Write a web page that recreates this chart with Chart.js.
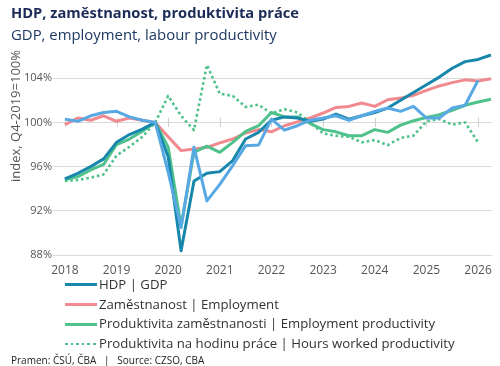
<!DOCTYPE html>
<html>
<head>
<meta charset="utf-8">
<script src="https://cdn.jsdelivr.net/npm/chart.js@4"></script>
<style>
  html, body { margin: 0; padding: 0; background: #fff; }
  body { width: 500px; height: 366px; position: relative; overflow: hidden; font-family: "Open Sans", sans-serif; }
  #wrap { position: absolute; left: 0; top: 0; width: 500px; height: 366px; }
  #t1 { position: absolute; left: 11px; top: 2px; font-weight: 700; font-size: 14.7px; color: #1b2a57; white-space: nowrap; }
  #t2 { position: absolute; left: 11px; top: 24px; font-size: 14.9px; color: #1d3963; white-space: nowrap; }
  #legend { position: absolute; left: 65px; top: 275px; }
  .row { height: 19.7px; line-height: 19.7px; font-size: 13.2px; color: #333; white-space: nowrap; display: flex; align-items: center; }
  .sw { display: inline-block; width: 32px; height: 3px; margin-right: 2px; }
  #src { position: absolute; left: 11px; top: 353px; font-size: 10px; color: #222; white-space: nowrap; }
</style>
</head>
<body>
<div id="wrap"><canvas id="c" width="500" height="366"></canvas></div>
<div id="t1">HDP, zaměstnanost, produktivita práce</div>
<div id="t2">GDP, employment, labour productivity</div>
<div id="legend"></div>
<div id="src">Pramen: ČSÚ, ČBA &nbsp; | &nbsp; Source: CZSO, CBA</div>
<script>
const quarters = [
  "2018Q1","2018Q2","2018Q3","2018Q4",
  "2019Q1","2019Q2","2019Q3","2019Q4",
  "2020Q1","2020Q2","2020Q3","2020Q4",
  "2021Q1","2021Q2","2021Q3","2021Q4",
  "2022Q1","2022Q2","2022Q3","2022Q4",
  "2023Q1","2023Q2","2023Q3","2023Q4",
  "2024Q1","2024Q2","2024Q3","2024Q4",
  "2025Q1","2025Q2","2025Q3","2025Q4",
  "2026Q1","2026Q2"
];
const yearTicks = [2018, 2019, 2020, 2021, 2022, 2023, 2024, 2025, 2026];
const yTicks = [88, 92, 96, 100, 104];

const gdp = [94.9, 95.4, 96.0, 96.7, 98.2, 98.9, 99.4, 100.0, 96.9, 88.4, 94.7, 95.4, 95.55, 96.55, 98.5, 99.1,
             100.2, 100.5, 100.4, 100.1, 100.3, 100.75, 100.3, 100.6, 100.9, 101.3, 102.0, 102.7, 103.4, 104.1, 104.9, 105.5,
             105.7, 106.1];
const employment = [99.8, 100.4, 100.2, 100.6, 100.1, 100.4, 100.2, 100.0, 98.7, 97.45, 97.6, 97.75, 98.15, 98.5, 99.05, 99.35,
             99.15, 99.7, 100.05, 100.4, 100.85, 101.35, 101.45, 101.75, 101.45, 102.05, 102.2, 102.45, 102.9, 103.3, 103.6, 103.85,
             103.75, 103.95];
const empProductivity = [94.8, 95.1, 95.7, 96.2, 98.0, 98.5, 99.2, 100.0, 97.75, 90.6, 97.3, 97.85, 97.3, 98.2, 99.2, 99.7,
             100.9, 100.5, 100.5, 99.9, 99.35, 99.15, 98.8, 98.8, 99.35, 99.1, 99.75, 100.15, 100.45, 100.7, 101.1, 101.55,
             101.85, 102.1];
const hoursProductivity = [94.7, 94.8, 95.0, 95.3, 97.0, 97.8, 98.7, 100.0, 102.4, 100.6, 99.3, 105.2, 102.6, 102.4, 101.4, 101.6,
             100.8, 101.2, 100.9, 100.0, 99.0, 98.8, 98.7, 98.2, 98.4, 97.95, 98.6, 98.8, 100.1, 100.3, 99.8, 100.0,
             98.2, null];
const otherSeries = [100.3, 100.1, 100.6, 100.9, 101.0, 100.5, 100.2, 100.0, 95.5, 90.5, 97.75, 92.9, 94.4, 96.1, 97.9, 97.95,
             100.3, 99.3, 99.7, 100.2, 100.4, 100.6, 100.2, 100.6, 101.0, 101.3, 101.0, 101.45, 100.4, 100.4, 101.3, 101.55,
             103.8, null];

const xOf = q => parseInt(q.slice(0, 4), 10) + (parseInt(q.slice(5), 10) - 1) / 4;
const pts = arr => quarters.map((q, i) => ({ x: xOf(q), y: arr[i] }));

const COL = { gdp: '#1787ab', emp: '#f08a8f', prod: '#4fc18b', blue: '#58a8e4' };

const datasets = [
  { label: 'HDP | GDP', data: pts(gdp), borderColor: COL.gdp, borderWidth: 3, order: 1, inLegend: true },
  { label: 'Zaměstnanost | Employment', data: pts(employment), borderColor: COL.emp, borderWidth: 3, order: 4, inLegend: true },
  { label: 'Produktivita zaměstnanosti | Employment productivity', data: pts(empProductivity), borderColor: COL.prod, borderWidth: 3, order: 3, inLegend: true },
  { label: 'Produktivita na hodinu práce | Hours worked productivity', data: pts(hoursProductivity), borderColor: COL.prod, borderWidth: 2.6, borderDash: [2.6, 2.8], order: 2, inLegend: true, dotted: true },
  { label: '', data: pts(otherSeries), borderColor: COL.blue, borderWidth: 3, order: 0, inLegend: false }
];
datasets.forEach(d => { d.pointRadius = 0; d.fill = false; d.tension = 0; d.spanGaps = false; d.borderJoinStyle = 'round'; });

const midTicks = {
  id: 'midTicks',
  beforeDatasetsDraw(chart) {
    const { ctx, scales } = chart;
    const y = scales.y.getPixelForValue(100);
    ctx.save();
    ctx.strokeStyle = '#cfcfcf';
    ctx.lineWidth = 1;
    yearTicks.forEach(v => {
      const x = Math.round(scales.x.getPixelForValue(v)) + 0.5;
      ctx.beginPath();
      ctx.moveTo(x, y - 4.5);
      ctx.lineTo(x, y + 4.5);
      ctx.stroke();
    });
    ctx.restore();
  }
};

const chart = new Chart(document.getElementById('c'), {
  type: 'line',
  data: { datasets },
  options: {
    responsive: false,
    animation: false,
    layout: { padding: { top: 50, left: 0, right: 7, bottom: 80.5 } },
    plugins: { legend: { display: false }, tooltip: { enabled: false }, title: { display: false } },
    scales: {
      x: {
        type: 'linear',
        min: 2017.77,
        max: 2026.28,
        afterBuildTicks: s => { s.ticks = yearTicks.map(v => ({ value: v })); },
        ticks: { callback: v => String(v), color: '#555', font: { family: 'Open Sans', size: 12 }, padding: 8, maxRotation: 0, autoSkip: false },
        grid: { display: false, drawTicks: false },
        border: { display: false }
      },
      y: {
        min: 88,
        max: 106.55,
        afterBuildTicks: s => { s.ticks = yTicks.map(v => ({ value: v })); },
        afterFit: s => { s.width = 53; },
        ticks: { callback: v => v + '%', color: '#555', font: { family: 'Open Sans', size: 11 }, padding: 1 },
        grid: { color: '#dadada', lineWidth: 1, drawTicks: false },
        border: { display: false },
        title: { display: true, text: 'index, Q4-2019=100%', align: 'end', color: '#555', font: { family: 'Open Sans', size: 13 }, padding: { top: 8, bottom: 0 } }
      }
    }
  },
  plugins: [midTicks]
});

const lg = document.getElementById('legend');
chart.data.datasets.filter(d => d.inLegend).forEach(d => {
  const row = document.createElement('div');
  row.className = 'row';
  const sw = document.createElement('span');
  sw.className = 'sw';
  if (d.dotted) {
    sw.style.background = `repeating-linear-gradient(90deg, ${d.borderColor} 0 2.6px, transparent 2.6px 5.6px)`;
    sw.style.height = '2.6px';
  } else {
    sw.style.background = d.borderColor;
  }
  const tx = document.createElement('span');
  tx.textContent = d.label;
  row.appendChild(sw);
  row.appendChild(tx);
  lg.appendChild(row);
});
</script>
</body>
</html>
